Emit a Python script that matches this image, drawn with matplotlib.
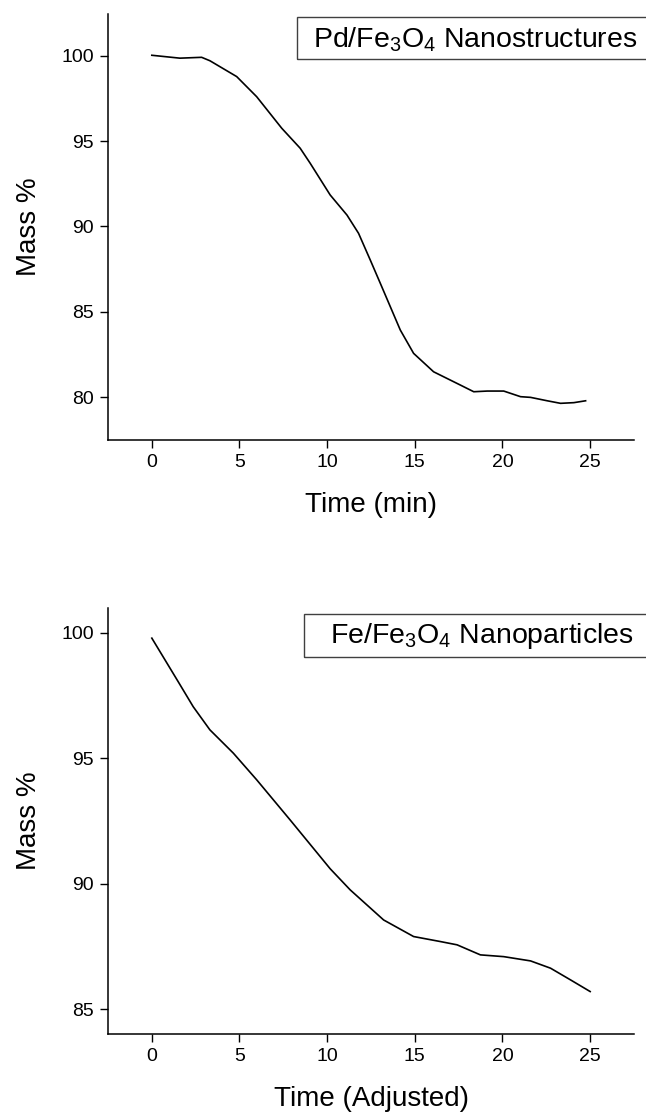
import matplotlib
matplotlib.use('Agg')
import matplotlib.pyplot as plt
from matplotlib.patches import Rectangle

plt.rcParams['font.family'] = ['Liberation Sans', 'DejaVu Sans']
plt.rcParams['mathtext.fontset'] = 'custom'
plt.rcParams['mathtext.rm'] = 'Liberation Sans'
plt.rcParams['mathtext.it'] = 'Liberation Sans:italic'

#%% data
pd_time = [0.0, 1.6, 2.84, 3.31, 4.84, 5.98, 7.41, 8.46, 9.03, 10.17, 11.13, 11.79,
           12.46, 13.03, 14.17, 14.93, 16.07, 17.6, 18.36, 19.13, 20.07, 21.03,
           21.6, 22.55, 23.31, 24.07, 24.74]
pd_mass = [100.04, 99.87, 99.92, 99.72, 98.79, 97.61, 95.76, 94.59, 93.71, 91.85,
           90.67, 89.6, 88.03, 86.67, 83.93, 82.56, 81.48, 80.7, 80.31, 80.35,
           80.35, 80.02, 79.98, 79.78, 79.63, 79.67, 79.78]

fe_time = [0.0, 1.5, 2.36, 3.31, 4.65, 5.98, 7.89, 10.17, 11.31, 13.22, 14.93,
           16.46, 17.41, 18.74, 20.07, 21.6, 22.74, 23.89, 25.0]
fe_mass = [99.78, 98.05, 97.05, 96.13, 95.2, 94.14, 92.54, 90.6, 89.76, 88.56,
           87.9, 87.7, 87.57, 87.17, 87.1, 86.93, 86.64, 86.17, 85.71]

top_ticks = [80, 85, 90, 95, 100]
bottom_ticks = [85, 90, 95, 100]
x_ticks = [0, 5, 10, 15, 20, 25]

W, H = 646, 1114
fig = plt.figure(figsize=(W / 100, H / 100), dpi=100)


def style(ax):
    ax.spines['top'].set_visible(False)
    ax.spines['right'].set_visible(False)
    for s in ['left', 'bottom']:
        ax.spines[s].set_linewidth(1.1)
    ax.tick_params(direction='out', length=6, width=1.0, labelsize=14, pad=4)
    ax.set_xlim(-2.5, 27.5)
    ax.set_xticks(x_ticks)


def label_box(x0, y0, y1, tx, ty, text):
    # box drawn in pixel coords, converted to figure fraction
    fig.add_artist(Rectangle((x0 / W, 1 - y1 / H), (W + 10 - x0) / W, (y1 - y0) / H,
                             transform=fig.transFigure, fill=False,
                             edgecolor='#404040', linewidth=1.0))
    fig.text(tx / W, 1 - ty / H, text, fontsize=20.5, va='baseline', ha='left')


#%% top panel
ax1 = fig.add_axes([108 / W, 1 - 440 / H, 526 / W, 426 / H])
ax1.plot(pd_time, pd_mass, color='black', linewidth=1.2)
style(ax1)
ax1.set_ylim(77.48, 102.46)
ax1.set_yticks(top_ticks)
ax1.set_xlabel('Time (min)', fontsize=20, labelpad=15)
ax1.set_ylabel('Mass %', fontsize=20, labelpad=14)
label_box(297, 17, 59, 313, 47, 'Pd/Fe$_3$O$_4$ Nanostructures')

#%% bottom panel
ax2 = fig.add_axes([108 / W, 1 - 1034 / H, 526 / W, 426 / H])
ax2.plot(fe_time, fe_mass, color='black', linewidth=1.2)
style(ax2)
ax2.set_ylim(84.02, 100.98)
ax2.set_yticks(bottom_ticks)
ax2.set_xlabel('Time (Adjusted)', fontsize=20, labelpad=15)
ax2.set_ylabel('Mass %', fontsize=20, labelpad=14)
label_box(304, 614, 657, 330, 643, 'Fe/Fe$_3$O$_4$ Nanoparticles')

fig.savefig('out.png', dpi=100)
